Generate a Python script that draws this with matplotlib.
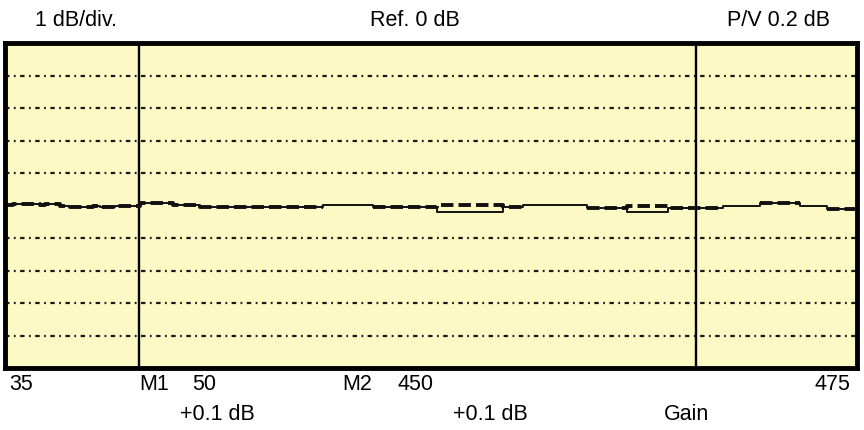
import numpy as np
import matplotlib
matplotlib.use("Agg")
import matplotlib.pyplot as plt

plt.rcParams['font.family'] = ['Liberation Sans', 'DejaVu Sans']

# sweep position (percent of span) of each step edge
edges = [0, 0.9, 4.1, 4.7, 6.5, 7.6, 10.3, 11.2, 12.9, 15.8, 19.7, 22.9,
         37.3, 43.2, 50.7, 58.5, 60.8, 68.3, 73.0, 77.8, 81.1, 84.3, 88.6,
         93.3, 96.5, 100]

# live gain trace, dB relative to reference (one value per step)
gain_live = [0.015, 0.05, 0.015, 0.05, -0.02, -0.055, -0.005, -0.035, -0.015,
             0.07, 0.015, -0.035, 0.015, -0.035, -0.19, -0.045, 0.015, -0.085,
             -0.21, -0.07, -0.07, -0.005, 0.07, -0.005, -0.11]

# stored trace (drawn dashed), nan where it is hidden under the live one
gain_stored = [0.015, 0.05, 0.015, 0.05, -0.02, -0.055, -0.005, -0.035, -0.015,
               0.07, 0.015, -0.035, np.nan, -0.035, 0.015, -0.045, np.nan, -0.085,
               -0.005, -0.07, -0.07, np.nan, 0.07, np.nan, -0.11]

markers = [15.7, 81.1]

top_labels = ["1 dB/div.", "Ref. 0 dB", "P/V 0.2 dB"]
freq_labels = ["35", "M1", "50", "M2", "450", "475"]
readout_labels = ["+0.1 dB", "+0.1 dB", "Gain"]

W, H = 864, 430
fig = plt.figure(figsize=(W / 100, H / 100), dpi=100)
ax = fig.add_axes([5 / W, (H - 368) / H, 852 / W, 325 / H])
ax.set_facecolor('#fdf9c4')
ax.set_xlim(0, 100)
ax.set_ylim(-5, 5)

# graticule
for y in range(-4, 5):
    if y == 0:
        continue
    ax.axhline(y, color='#1a1a1a', lw=1.6, dashes=(2, 2, 0.8, 2))

for m in markers:
    ax.axvline(m, color='black', lw=1.7)

live = gain_live + [gain_live[-1]]
stored = gain_stored + [gain_stored[-1]]
ax.step(edges, live, where='post', color='#111111', lw=1.4)
ax.step(edges, stored, where='post', color='#111111', lw=2.8, dashes=(3.2, 1.3))

ax.set_xticks([])
ax.set_yticks([])
for s in ax.spines.values():
    s.set_linewidth(3.5)
    s.set_color('black')

fs = 15.5
fig.text(35 / W, 1 - 20 / H, top_labels[0], fontsize=fs, va='center', ha='left')
fig.text(370 / W, 1 - 20 / H, top_labels[1], fontsize=fs, va='center', ha='left')
fig.text(830 / W, 1 - 20 / H, top_labels[2], fontsize=fs, va='center', ha='right')

freq_x = [9, 139, 192, 342, 397, 850]
for x, t in zip(freq_x, freq_labels):
    ha = 'right' if t == "475" else 'left'
    fig.text(x / W, 1 - 385 / H, t, fontsize=fs, va='center', ha=ha)

read_x = [180, 453, 664]
for x, t in zip(read_x, readout_labels):
    fig.text(x / W, 1 - 414 / H, t, fontsize=fs, va='center', ha='left')

fig.savefig('out.png', dpi=100, facecolor='white')
